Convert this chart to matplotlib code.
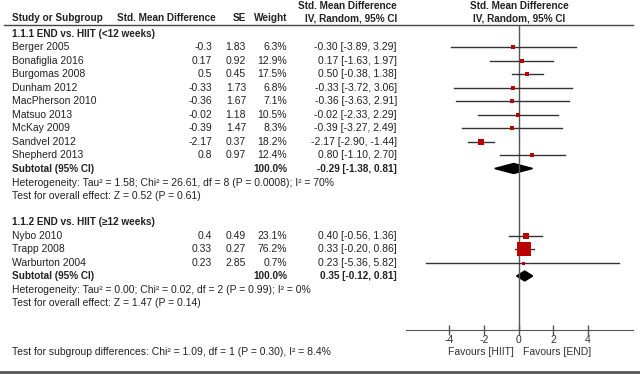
import matplotlib.pyplot as plt
from matplotlib.patches import Polygon

plt.rcParams['font.family'] = ['Liberation Sans', 'DejaVu Sans']

# group 1: END vs. HIIT (<12 weeks)
studies1 = ['Berger 2005', 'Bonafiglia 2016', 'Burgomas 2008', 'Dunham 2012', 'MacPherson 2010',
            'Matsuo 2013', 'McKay 2009', 'Sandvel 2012', 'Shepherd 2013']
smd1 = [-0.3, 0.17, 0.5, -0.33, -0.36, -0.02, -0.39, -2.17, 0.8]
se1 = [1.83, 0.92, 0.45, 1.73, 1.67, 1.18, 1.47, 0.37, 0.97]
w1 = [6.3, 12.9, 17.5, 6.8, 7.1, 10.5, 8.3, 18.2, 12.4]
lo1 = [-3.89, -1.63, -0.38, -3.72, -3.63, -2.33, -3.27, -2.90, -1.10]
hi1 = [3.29, 1.97, 1.38, 3.06, 2.91, 2.29, 2.49, -1.44, 2.70]
sub1 = [-0.29, -1.38, 0.81]

# group 2: END vs. HIIT (>=12 weeks)
studies2 = ['Nybo 2010', 'Trapp 2008', 'Warburton 2004']
smd2 = [0.4, 0.33, 0.23]
se2 = [0.49, 0.27, 2.85]
w2 = [23.1, 76.2, 0.7]
lo2 = [-0.56, -0.20, -5.36]
hi2 = [1.36, 0.86, 5.82]
sub2 = [0.35, -0.12, 0.81]

het1 = 'Heterogeneity: Tau\u00b2 = 1.58; Chi\u00b2 = 26.61, df = 8 (P = 0.0008); I\u00b2 = 70%'
eff1 = 'Test for overall effect: Z = 0.52 (P = 0.61)'
het2 = 'Heterogeneity: Tau\u00b2 = 0.00; Chi\u00b2 = 0.02, df = 2 (P = 0.99); I\u00b2 = 0%'
eff2 = 'Test for overall effect: Z = 1.47 (P = 0.14)'
subdiff = 'Test for subgroup differences: Chi\u00b2 = 1.09, df = 1 (P = 0.30), I\u00b2 = 8.4%'
ticks = [-4, -2, 0, 2, 4]

W, H = 640, 374
fig = plt.figure(figsize=(W / 100, H / 100), dpi=100)
fig.patch.set_facecolor('white')

# text canvas in pixel units
tx = fig.add_axes([0, 0, 1, 1])
tx.set_xlim(0, W)
tx.set_ylim(H, 0)
tx.axis('off')

# forest panel
x0, x1, ytop, ybot = 406, 633, 25, 330
ax = fig.add_axes([x0 / W, 1 - ybot / H, (x1 - x0) / W, (ybot - ytop) / H])
ax.set_xlim(-6.5, 6.6)
ax.set_ylim(ybot, ytop)
ax.patch.set_alpha(0)
for s in ['top', 'left', 'right']:
    ax.spines[s].set_visible(False)
ax.spines['bottom'].set_color('#555555')
ax.set_yticks([])
ax.set_xticks(ticks)
ax.set_xticklabels([str(t) for t in ticks])
ax.tick_params(axis='x', direction='inout', length=7, width=1, color='#555555',
               labelsize=7.5, labelcolor='#333333', pad=0)
ax.axvline(0, color='#555555', lw=1)

fs = 7.5
fb = 7.2
txtc = '#222222'
red = '#bb0000'

# headers
tx.text(347, 6, 'Std. Mean Difference', ha='center', va='center', fontsize=fb, fontweight='bold', color=txtc)
tx.text(519, 6, 'Std. Mean Difference', ha='center', va='center', fontsize=fb, fontweight='bold', color=txtc)
tx.text(12, 18, 'Study or Subgroup', ha='left', va='center', fontsize=fb, fontweight='bold', color=txtc)
tx.text(117, 18, 'Std. Mean Difference', ha='left', va='center', fontsize=fb, fontweight='bold', color=txtc)
tx.text(246, 18, 'SE', ha='right', va='center', fontsize=fb, fontweight='bold', color=txtc)
tx.text(287, 18, 'Weight', ha='right', va='center', fontsize=fb, fontweight='bold', color=txtc)
tx.text(397, 18, 'IV, Random, 95% CI', ha='right', va='center', fontsize=fb, fontweight='bold', color=txtc)
tx.text(519, 18, 'IV, Random, 95% CI', ha='center', va='center', fontsize=fb, fontweight='bold', color=txtc)
tx.plot([4, 633], [25, 25], color='#444444', lw=1)


def group(title, y0, studies, smd, se, w, lo, hi, sub, het, eff):
    tx.text(12, y0, title, ha='left', va='center', fontsize=fb, fontweight='bold', color=txtc)
    step = 13.5
    y = y0
    for i in range(len(studies)):
        y = y0 + step * (i + 1)
        tx.text(12, y, studies[i], ha='left', va='center', fontsize=fs, color=txtc)
        tx.text(212, y, str(smd[i]), ha='right', va='center', fontsize=fs, color=txtc)
        tx.text(246, y, str(se[i]), ha='right', va='center', fontsize=fs, color=txtc)
        tx.text(287, y, f'{w[i]:.1f}%', ha='right', va='center', fontsize=fs, color=txtc)
        tx.text(397, y, f'{smd[i]:.2f} [{lo[i]:.2f}, {hi[i]:.2f}]', ha='right', va='center',
                fontsize=fs, color=txtc)
        ax.plot([lo[i], hi[i]], [y, y], color='#333333', lw=1)
        side = max(3.0, 2 + 0.17 * w[i]) * 0.72
        ax.plot(smd[i], y, marker='s', ms=side, color=red, mec=red, mew=0)
    ys = y + step
    tx.text(12, ys, 'Subtotal (95% CI)', ha='left', va='center', fontsize=fb, fontweight='bold', color=txtc)
    tx.text(287, ys, '100.0%', ha='right', va='center', fontsize=fb, fontweight='bold', color=txtc)
    tx.text(397, ys, f'{sub[0]:.2f} [{sub[1]:.2f}, {sub[2]:.2f}]', ha='right', va='center',
            fontsize=fb, fontweight='bold', color=txtc)
    ax.add_patch(Polygon([(sub[1], ys), (sub[0], ys - 5), (sub[2], ys), (sub[0], ys + 5)],
                         closed=True, color='black'))
    tx.text(12, ys + 14, het, ha='left', va='center', fontsize=fs, color=txtc)
    tx.text(12, ys + 27.5, eff, ha='left', va='center', fontsize=fs, color=txtc)


group('1.1.1 END vs. HIIT (<12 weeks)', 33.5, studies1, smd1, se1, w1, lo1, hi1, sub1, het1, eff1)
group('1.1.2 END vs. HIIT (\u226512 weeks)', 222, studies2, smd2, se2, w2, lo2, hi2, sub2, het2, eff2)

tx.text(514, 352, 'Favours [HIIT]', ha='right', va='center', fontsize=fs, color='#333333')
tx.text(523, 352, 'Favours [END]', ha='left', va='center', fontsize=fs, color='#333333')
tx.text(12, 352, subdiff, ha='left', va='center', fontsize=fs, color=txtc)
tx.plot([0, W], [372, 372], color='#555555', lw=2)

fig.savefig('out.png', dpi=100)
